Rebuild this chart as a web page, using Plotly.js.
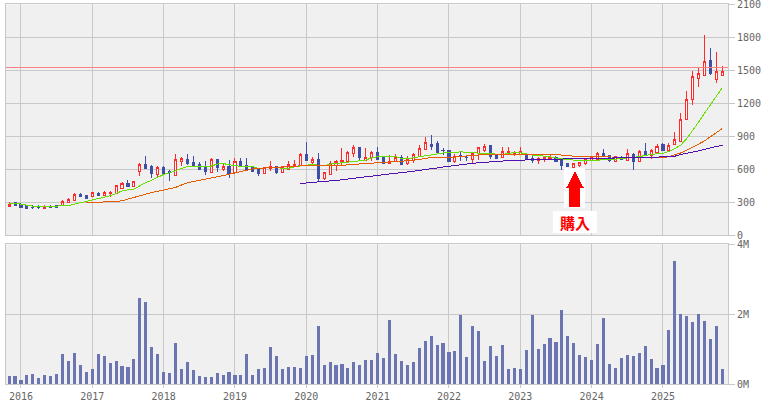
<!DOCTYPE html>
<html><head><meta charset="utf-8">
<script src="https://cdn.plot.ly/plotly-3.0.1.min.js"></script>
<style>html,body{margin:0;padding:0;background:#fff;overflow:hidden}
.scatterlayer path,.boxlayer path,.shapelayer path,.barlayer path{shape-rendering:crispEdges}</style>
</head><body><div id="chart" style="width:763px;height:404px"></div>
<script>
const yearTickIndex=[2,14,26,38,50,62,74,86,98,110];
const yearLabels=['2016','2017','2018','2019','2020','2021','2022','2023','2024','2025'];
const openPrice=[260,300,284,275,254,255,245,262,272,272,
296,315,375,366,351,384,360,384,381,427,
475,442,578,648,630,554,620,585,548,675,
693,666,648,624,569,693,600,630,569,675,
639,624,600,560,606,624,569,597,636,639,
739,660,690,518,557,639,670,669,742,803,
685,709,754,715,651,672,706,651,678,715,
778,830,839,775,772,669,724,712,694,745,
775,821,730,709,736,733,736,739,700,685,
691,700,712,694,651,618,639,651,685,694,
748,727,675,709,685,739,675,763,730,754,
827,769,824,857,1054,1236,1424,1457,1590,1418,
1451];
const closePrice=[284,269,257,242,250,252,263,258,251,309,
330,375,351,339,390,360,393,390,454,475,
448,493,648,612,566,620,566,575,690,702,
654,630,602,578,690,615,630,563,672,630,
600,578,563,615,624,569,624,645,645,739,
685,690,521,575,654,672,678,757,800,706,
709,754,694,651,672,706,642,690,739,794,
845,806,757,770,669,715,715,708,745,800,
806,715,703,763,760,745,760,691,685,700,
709,706,669,633,624,654,666,690,712,748,
721,685,715,691,745,669,763,730,775,812,
769,821,872,1054,1236,1445,1472,1581,1469,1491,
1491];
const highPrice=[303,305,295,280,278,272,272,275,280,322,
342,390,390,366,397,396,400,402,460,484,
500,499,660,720,640,630,630,593,739,712,
739,720,667,675,700,693,648,684,700,700,
700,624,609,615,675,624,630,680,690,745,
848,712,748,580,675,690,795,769,821,803,
795,766,803,720,733,736,727,718,745,820,
893,912,857,797,772,736,760,720,760,806,
830,821,730,800,800,770,800,745,718,715,
718,733,718,697,657,657,670,700,718,760,
790,733,720,718,790,745,775,842,785,833,
836,836,942,1112,1312,1494,1518,1821,1700,1669,
1536];
const lowPrice=[260,266,255,240,236,239,242,251,250,272,
296,312,349,339,351,358,358,351,381,427,
448,442,540,605,520,527,560,496,545,630,
640,620,600,548,566,577,590,522,560,625,
595,575,539,560,590,560,569,597,620,630,
680,650,490,500,557,590,640,669,712,680,
680,676,690,651,651,670,642,640,660,710,
778,775,750,733,669,660,680,678,650,685,
760,697,703,700,730,720,730,691,660,650,
670,688,669,597,624,618,620,640,680,694,
715,670,670,685,685,597,670,725,697,750,
769,769,824,845,1045,1185,1351,1445,1460,1385,
1451];
const maShort=[290,290,285,275,266,264,263,263,266,272,
272,284,296,309,327,336,351,360,381,405,
415,421,451,481,502,527,554,569,587,609,
627,627,627,627,630,648,654,642,633,627,
624,624,609,614,618,620,609,609,624,630,
639,645,639,633,648,654,663,669,669,678,
684,706,715,715,718,718,700,697,706,715,
724,730,745,754,757,754,760,754,751,745,
742,736,733,736,745,754,751,739,730,727,
724,715,703,694,688,685,678,678,681,685,
685,685,694,697,706,709,715,727,736,742,
745,763,790,821,880,950,1030,1110,1190,1270,
1345];
const maMid=[null,null,null,null,null,null,null,null,null,null,
null,null,null,300,300,300,303,305,308,315,
330,345,360,380,390,400,410,420,436,458,
478,490,500,515,524,535,542,555,569,580,
593,605,609,612,615,620,622,624,627,630,
636,639,633,630,632,634,636,640,645,650,
654,660,663,664,667,669,672,678,684,690,
700,709,709,709,709,712,718,724,730,733,
736,736,736,736,736,736,737,738,739,739,
739,739,738,730,725,718,716,715,714,714,
714,714,714,712,710,708,708,708,708,708,
708,715,730,750,775,800,830,860,895,935,
972];
const maLong=[null,null,null,null,null,null,null,null,null,null,
null,null,null,null,null,null,null,null,null,null,
null,null,null,null,null,null,null,null,null,null,
null,null,null,null,null,null,null,null,null,null,
null,null,null,null,null,null,null,null,null,472,
476,480,485,490,495,500,505,513,520,527,
535,540,547,554,560,565,570,575,583,590,
600,605,612,622,630,635,642,650,656,660,
665,670,675,678,680,680,683,690,691,692,
692,692,693,693,694,695,695,696,698,700,
702,703,704,705,706,707,708,710,712,712,
713,715,720,735,745,755,769,782,795,808,
821];
const volume=[238,238,124,267,295,181,267,238,295,866,
666,895,552,352,438,866,809,609,666,524,
495,723,2466,2351,1066,866,352,324,1180,438,
638,409,238,209,209,324,267,352,267,267,
866,267,438,466,1066,809,438,495,495,466,
809,838,1666,552,638,552,581,466,638,552,
695,695,895,752,1838,866,666,552,638,1038,
1238,1380,1123,1180,923,952,1980,781,1666,1523,
666,1095,809,1123,438,466,438,981,1980,1009,
1152,1323,1209,2123,1380,1180,838,781,695,1152,
1895,581,466,752,838,809,895,1095,723,466,
552,1552,3523,2009,1952,1780,2009,1809,1295,1666,
438];
const referencePrice=1527;
const buyIndex=95.2, buyPrice=600;
const months=volume.map((_,i)=>i);

const gridC='#c8c8c8', tickF={family:'"DejaVu Sans Mono",monospace',size:10,color:'#666'};
const W=763,H=404;
const xRange=[-0.52,120.94];
const lineT=(y,c,name)=>({type:'scatter',mode:'lines',x:months,y:y,name:name,xaxis:'x2',yaxis:'y2',
  line:{color:c,width:1},connectgaps:false,hoverinfo:'skip'});
const data=[
 {type:'bar',x:months,y:volume,width:0.52,marker:{color:'#6b75b2',line:{width:0}},xaxis:'x',yaxis:'y',hoverinfo:'y'},
 {type:'candlestick',x:months,open:openPrice,high:highPrice,low:lowPrice,close:closePrice,xaxis:'x2',yaxis:'y2',whiskerwidth:0,
  increasing:{line:{color:'#ff2a2a',width:1},fillcolor:'#ffffff'},
  decreasing:{line:{color:'#3f4fa5',width:1},fillcolor:'#3f4fa5'}},
 lineT(maShort,'#66e000','short'),
 lineT(maMid,'#e65a00','mid'),
 lineT(maLong,'#5010b0','long')
];
const layout={
 width:W,height:H,margin:{l:6,r:35,t:0,b:0,pad:0},showlegend:false,
 paper_bgcolor:'#fff',plot_bgcolor:'#f0f0f0',boxgap:0.5,
 xaxis:{domain:[0,1],range:xRange,type:'linear',anchor:'y',tickmode:'array',tickvals:yearTickIndex,ticktext:yearLabels,
   showgrid:true,gridcolor:gridC,gridwidth:1,zeroline:false,showline:true,linecolor:gridC,mirror:true,ticks:'outside',ticklen:3,tickcolor:gridC,tickfont:tickF},
 xaxis2:{domain:[0,1],range:xRange,type:'linear',anchor:'y2',tickmode:'array',tickvals:yearTickIndex,showticklabels:false,ticks:'',rangeslider:{visible:false},
   showgrid:true,gridcolor:gridC,gridwidth:1,zeroline:false,showline:true,linecolor:gridC,mirror:true},
 yaxis:{domain:[(H-384.4)/H,(H-244.4)/H],range:[0,4000],side:'right',anchor:'x',tickmode:'array',tickvals:[0,2000,4000],ticktext:['0M','2M','4M'],ticklabeloverflow:'allow',
   showgrid:true,gridcolor:gridC,gridwidth:1,zeroline:false,showline:true,linecolor:gridC,mirror:true,ticks:'outside',ticklen:6,tickcolor:gridC,tickfont:tickF},
 yaxis2:{domain:[(H-235.4)/H,(H-4.4)/H],range:[0,2100],side:'right',anchor:'x2',tickmode:'array',tickvals:[0,300,600,900,1200,1500,1800,2100],ticklabeloverflow:'allow',
   showgrid:true,gridcolor:gridC,gridwidth:1,zeroline:false,showline:true,linecolor:gridC,mirror:true,ticks:'outside',ticklen:6,tickcolor:gridC,tickfont:tickF},
 shapes:[
  {type:'line',xref:'x2 domain',yref:'y2',x0:0,x1:1,y0:referencePrice,y1:referencePrice,line:{color:'#ff8080',width:1},layer:'above'},
  {type:'rect',xref:'x2',yref:'y2',xsizemode:'pixel',ysizemode:'pixel',xanchor:buyIndex,yanchor:buyPrice,x0:-10.5,x1:10.5,y0:1,y1:-39,fillcolor:'#fff',line:{width:0},layer:'above'},
  {type:'path',xref:'x2',yref:'y2',xsizemode:'pixel',ysizemode:'pixel',xanchor:buyIndex,yanchor:buyPrice,
   path:'M 0 -2 L 9 -19 L 5.5 -19 L 5.5 -38 L -5.5 -38 L -5.5 -19 L -9 -19 Z',fillcolor:'#ff0000',line:{width:0},layer:'above'}
 ],
 annotations:[
  {xref:'x2',yref:'y2',x:buyIndex,y:buyPrice,yanchor:'top',xanchor:'center',yshift:-42,xshift:0,showarrow:false,text:'<b>購入</b>',
   font:{family:'"Noto Sans CJK JP"',size:15,color:'#ff0000'},bgcolor:'#ffffff',borderpad:0,borderwidth:0,width:44,height:22,align:'center',valign:'middle'}
 ]
};
Plotly.newPlot('chart',data,layout,{displayModeBar:false,staticPlot:true});
</script></body></html>
